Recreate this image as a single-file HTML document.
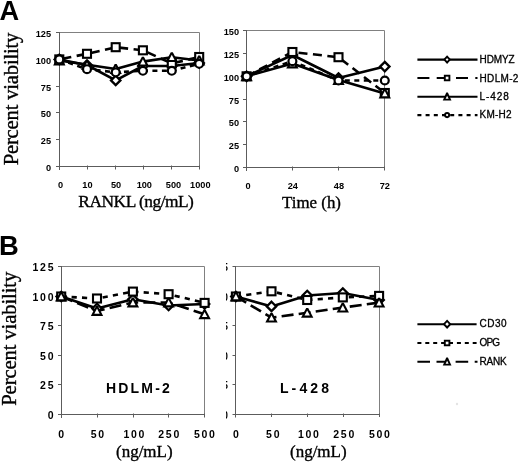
<!DOCTYPE html><html><head><meta charset="utf-8"><title>Figure</title>
<style>html,body{margin:0;padding:0;background:#fff}svg{display:block}text{fill:#000}</style></head><body>
<svg width="520" height="465" viewBox="0 0 520 465">
<rect width="520" height="465" fill="#fff"/>
<text x="-0.5" y="19.9" font-family="'Liberation Sans', Arial, sans-serif" font-size="27.2" font-weight="bold" text-anchor="start">A</text>
<text x="-0.9" y="255.0" font-family="'Liberation Sans', Arial, sans-serif" font-size="27.4" font-weight="bold" text-anchor="start">B</text>
<text transform="translate(17.5,165.3) rotate(-90)" font-family="'Liberation Serif', 'Times New Roman', serif" font-size="20.7" letter-spacing="-0.22" stroke="#000" stroke-width="0.35">Percent viability</text>
<text transform="translate(16,405.8) rotate(-90)" font-family="'Liberation Serif', 'Times New Roman', serif" font-size="20.7" letter-spacing="-0.13" stroke="#000" stroke-width="0.35">Percent viability</text>
<path d="M59.5 32.5H199.5V166.5" fill="none" stroke="#808080" stroke-width="1"/>
<path d="M59.5 32.0V170.0M56.0 166.5H200.0" fill="none" stroke="#5c5c5c" stroke-width="1"/>
<line x1="56.0" y1="32.5" x2="59.5" y2="32.5" stroke="#5c5c5c" stroke-width="1"/>
<line x1="56.0" y1="59.5" x2="59.5" y2="59.5" stroke="#5c5c5c" stroke-width="1"/>
<line x1="56.0" y1="86.5" x2="59.5" y2="86.5" stroke="#5c5c5c" stroke-width="1"/>
<line x1="56.0" y1="112.5" x2="59.5" y2="112.5" stroke="#5c5c5c" stroke-width="1"/>
<line x1="56.0" y1="139.5" x2="59.5" y2="139.5" stroke="#5c5c5c" stroke-width="1"/>
<line x1="87.5" y1="165.5" x2="87.5" y2="169.5" stroke="#5c5c5c" stroke-width="1"/>
<line x1="115.5" y1="165.5" x2="115.5" y2="169.5" stroke="#5c5c5c" stroke-width="1"/>
<line x1="143.5" y1="165.5" x2="143.5" y2="169.5" stroke="#5c5c5c" stroke-width="1"/>
<line x1="171.5" y1="165.5" x2="171.5" y2="169.5" stroke="#5c5c5c" stroke-width="1"/>
<line x1="199.5" y1="165.5" x2="199.5" y2="169.5" stroke="#5c5c5c" stroke-width="1"/>
<text x="51.1" y="36.9" font-family="'Liberation Sans', Arial, sans-serif" font-size="9.2" font-weight="bold" text-anchor="end">125</text>
<text x="51.1" y="63.699999999999996" font-family="'Liberation Sans', Arial, sans-serif" font-size="9.2" font-weight="bold" text-anchor="end">100</text>
<text x="51.1" y="90.5" font-family="'Liberation Sans', Arial, sans-serif" font-size="9.2" font-weight="bold" text-anchor="end">75</text>
<text x="51.1" y="117.30000000000001" font-family="'Liberation Sans', Arial, sans-serif" font-size="9.2" font-weight="bold" text-anchor="end">50</text>
<text x="51.1" y="144.1" font-family="'Liberation Sans', Arial, sans-serif" font-size="9.2" font-weight="bold" text-anchor="end">25</text>
<text x="51.1" y="170.9" font-family="'Liberation Sans', Arial, sans-serif" font-size="9.2" font-weight="bold" text-anchor="end">0</text>
<text x="60.5" y="187.7" font-family="'Liberation Sans', Arial, sans-serif" font-size="9.2" font-weight="bold" text-anchor="middle">0</text>
<text x="87.4" y="187.7" font-family="'Liberation Sans', Arial, sans-serif" font-size="9.2" font-weight="bold" text-anchor="middle">10</text>
<text x="116.0" y="187.7" font-family="'Liberation Sans', Arial, sans-serif" font-size="9.2" font-weight="bold" text-anchor="middle">50</text>
<text x="144.3" y="187.7" font-family="'Liberation Sans', Arial, sans-serif" font-size="9.2" font-weight="bold" text-anchor="middle">100</text>
<text x="173.5" y="187.7" font-family="'Liberation Sans', Arial, sans-serif" font-size="9.2" font-weight="bold" text-anchor="middle">500</text>
<text x="200.3" y="187.7" font-family="'Liberation Sans', Arial, sans-serif" font-size="9.2" font-weight="bold" text-anchor="middle">1000</text>
<text x="135.9" y="207.2" font-family="'Liberation Serif', 'Times New Roman', serif" font-size="17.4" font-weight="normal" text-anchor="middle" letter-spacing="-0.5" stroke="#000" stroke-width="0.35">RANKL (ng/mL)</text>
<polyline points="59.30,59.40 87.00,65.00 115.70,80.40 142.90,66.00 171.80,66.00 199.20,63.00" fill="none" stroke="#000" stroke-width="2.6" stroke-linejoin="round"/>
<path d="M59.30 54.70L64.00 59.40L59.30 64.10L54.60 59.40Z" fill="#fff" stroke="#000" stroke-width="2.31" stroke-linejoin="miter"/>
<path d="M87.00 60.30L91.70 65.00L87.00 69.70L82.30 65.00Z" fill="#fff" stroke="#000" stroke-width="2.31" stroke-linejoin="miter"/>
<path d="M115.70 75.70L120.40 80.40L115.70 85.10L111.00 80.40Z" fill="#fff" stroke="#000" stroke-width="2.31" stroke-linejoin="miter"/>
<path d="M142.90 61.30L147.60 66.00L142.90 70.70L138.20 66.00Z" fill="#fff" stroke="#000" stroke-width="2.31" stroke-linejoin="miter"/>
<path d="M171.80 61.30L176.50 66.00L171.80 70.70L167.10 66.00Z" fill="#fff" stroke="#000" stroke-width="2.31" stroke-linejoin="miter"/>
<path d="M199.20 58.30L203.90 63.00L199.20 67.70L194.50 63.00Z" fill="#fff" stroke="#000" stroke-width="2.31" stroke-linejoin="miter"/>
<polyline points="59.30,59.40 87.00,53.80 115.70,47.20 142.90,50.30 171.80,63.50 199.20,57.00" fill="none" stroke="#000" stroke-width="2.6" stroke-linejoin="round" stroke-dasharray="9 5.5" stroke-dashoffset="11.3"/>
<rect x="55.30" y="55.40" width="8.00" height="8.00" fill="#fff" stroke="#000" stroke-width="2.1"/>
<rect x="83.00" y="49.80" width="8.00" height="8.00" fill="#fff" stroke="#000" stroke-width="2.1"/>
<rect x="111.70" y="43.20" width="8.00" height="8.00" fill="#fff" stroke="#000" stroke-width="2.1"/>
<rect x="138.90" y="46.30" width="8.00" height="8.00" fill="#fff" stroke="#000" stroke-width="2.1"/>
<rect x="167.80" y="59.50" width="8.00" height="8.00" fill="#fff" stroke="#000" stroke-width="2.1"/>
<rect x="195.20" y="53.00" width="8.00" height="8.00" fill="#fff" stroke="#000" stroke-width="2.1"/>
<polyline points="59.30,60.50 87.00,64.80 115.70,69.00 142.90,61.60 171.80,57.20 199.20,60.50" fill="none" stroke="#000" stroke-width="2.6" stroke-linejoin="round"/>
<path d="M58.30 55.60L60.30 55.60L65.45 65.40L53.15 65.40Z" fill="#000"/><path d="M59.30 58.10L62.00 63.30L56.60 63.30Z" fill="#fff"/>
<path d="M86.00 59.90L88.00 59.90L93.15 69.70L80.85 69.70Z" fill="#000"/><path d="M87.00 62.40L89.70 67.60L84.30 67.60Z" fill="#fff"/>
<path d="M114.70 64.10L116.70 64.10L121.85 73.90L109.55 73.90Z" fill="#000"/><path d="M115.70 66.60L118.40 71.80L113.00 71.80Z" fill="#fff"/>
<path d="M141.90 56.70L143.90 56.70L149.05 66.50L136.75 66.50Z" fill="#000"/><path d="M142.90 59.20L145.60 64.40L140.20 64.40Z" fill="#fff"/>
<path d="M170.80 52.30L172.80 52.30L177.95 62.10L165.65 62.10Z" fill="#000"/><path d="M171.80 54.80L174.50 60.00L169.10 60.00Z" fill="#fff"/>
<path d="M198.20 55.60L200.20 55.60L205.35 65.40L193.05 65.40Z" fill="#000"/><path d="M199.20 58.10L201.90 63.30L196.50 63.30Z" fill="#fff"/>
<polyline points="59.30,59.40 87.00,69.20 115.70,72.30 142.90,70.80 171.80,70.80 199.20,63.80" fill="none" stroke="#000" stroke-width="2.6" stroke-linejoin="round" stroke-dasharray="5 4.5" stroke-dashoffset="0"/>
<circle cx="59.30" cy="59.40" r="3.95" fill="#fff" stroke="#000" stroke-width="2.21"/>
<circle cx="87.00" cy="69.20" r="3.95" fill="#fff" stroke="#000" stroke-width="2.21"/>
<circle cx="115.70" cy="72.30" r="3.95" fill="#fff" stroke="#000" stroke-width="2.21"/>
<circle cx="142.90" cy="70.80" r="3.95" fill="#fff" stroke="#000" stroke-width="2.21"/>
<circle cx="171.80" cy="70.80" r="3.95" fill="#fff" stroke="#000" stroke-width="2.21"/>
<circle cx="199.20" cy="63.80" r="3.95" fill="#fff" stroke="#000" stroke-width="2.21"/>
<path d="M246.5 30.5H384.5V167.5" fill="none" stroke="#808080" stroke-width="1"/>
<path d="M246.5 30.0V171.0M243.0 167.5H385.0" fill="none" stroke="#5c5c5c" stroke-width="1"/>
<line x1="243.0" y1="30.5" x2="246.5" y2="30.5" stroke="#5c5c5c" stroke-width="1"/>
<line x1="243.0" y1="53.5" x2="246.5" y2="53.5" stroke="#5c5c5c" stroke-width="1"/>
<line x1="243.0" y1="76.5" x2="246.5" y2="76.5" stroke="#5c5c5c" stroke-width="1"/>
<line x1="243.0" y1="99.5" x2="246.5" y2="99.5" stroke="#5c5c5c" stroke-width="1"/>
<line x1="243.0" y1="121.5" x2="246.5" y2="121.5" stroke="#5c5c5c" stroke-width="1"/>
<line x1="243.0" y1="144.5" x2="246.5" y2="144.5" stroke="#5c5c5c" stroke-width="1"/>
<line x1="292.5" y1="166.5" x2="292.5" y2="170.5" stroke="#5c5c5c" stroke-width="1"/>
<line x1="338.5" y1="166.5" x2="338.5" y2="170.5" stroke="#5c5c5c" stroke-width="1"/>
<line x1="384.5" y1="166.5" x2="384.5" y2="170.5" stroke="#5c5c5c" stroke-width="1"/>
<text x="239" y="35.0" font-family="'Liberation Sans', Arial, sans-serif" font-size="9.2" font-weight="bold" text-anchor="end">150</text>
<text x="239" y="57.83333333333333" font-family="'Liberation Sans', Arial, sans-serif" font-size="9.2" font-weight="bold" text-anchor="end">125</text>
<text x="239" y="80.66666666666666" font-family="'Liberation Sans', Arial, sans-serif" font-size="9.2" font-weight="bold" text-anchor="end">100</text>
<text x="239" y="103.5" font-family="'Liberation Sans', Arial, sans-serif" font-size="9.2" font-weight="bold" text-anchor="end">75</text>
<text x="239" y="126.33333333333333" font-family="'Liberation Sans', Arial, sans-serif" font-size="9.2" font-weight="bold" text-anchor="end">50</text>
<text x="239" y="149.16666666666669" font-family="'Liberation Sans', Arial, sans-serif" font-size="9.2" font-weight="bold" text-anchor="end">25</text>
<text x="239" y="172.0" font-family="'Liberation Sans', Arial, sans-serif" font-size="9.2" font-weight="bold" text-anchor="end">0</text>
<text x="248" y="189.2" font-family="'Liberation Sans', Arial, sans-serif" font-size="9.2" font-weight="bold" text-anchor="middle">0</text>
<text x="292.8" y="189.2" font-family="'Liberation Sans', Arial, sans-serif" font-size="9.2" font-weight="bold" text-anchor="middle">24</text>
<text x="338.9" y="189.2" font-family="'Liberation Sans', Arial, sans-serif" font-size="9.2" font-weight="bold" text-anchor="middle">48</text>
<text x="384.8" y="189.2" font-family="'Liberation Sans', Arial, sans-serif" font-size="9.2" font-weight="bold" text-anchor="middle">72</text>
<text x="311.5" y="208.2" font-family="'Liberation Serif', 'Times New Roman', serif" font-size="16.9" font-weight="normal" text-anchor="middle" stroke="#000" stroke-width="0.35">Time (h)</text>
<polyline points="246.60,76.30 292.40,55.00 338.50,78.00 384.80,66.60" fill="none" stroke="#000" stroke-width="2.6" stroke-linejoin="round"/>
<path d="M246.60 71.60L251.30 76.30L246.60 81.00L241.90 76.30Z" fill="#fff" stroke="#000" stroke-width="2.31" stroke-linejoin="miter"/>
<path d="M292.40 50.30L297.10 55.00L292.40 59.70L287.70 55.00Z" fill="#fff" stroke="#000" stroke-width="2.31" stroke-linejoin="miter"/>
<path d="M338.50 73.30L343.20 78.00L338.50 82.70L333.80 78.00Z" fill="#fff" stroke="#000" stroke-width="2.31" stroke-linejoin="miter"/>
<path d="M384.80 61.90L389.50 66.60L384.80 71.30L380.10 66.60Z" fill="#fff" stroke="#000" stroke-width="2.31" stroke-linejoin="miter"/>
<polyline points="246.60,76.30 292.40,52.00 338.50,57.20 384.80,93.00" fill="none" stroke="#000" stroke-width="2.6" stroke-linejoin="round" stroke-dasharray="9 5.5" stroke-dashoffset="0"/>
<rect x="242.60" y="72.30" width="8.00" height="8.00" fill="#fff" stroke="#000" stroke-width="2.1"/>
<rect x="288.40" y="48.00" width="8.00" height="8.00" fill="#fff" stroke="#000" stroke-width="2.1"/>
<rect x="334.50" y="53.20" width="8.00" height="8.00" fill="#fff" stroke="#000" stroke-width="2.1"/>
<rect x="380.80" y="89.00" width="8.00" height="8.00" fill="#fff" stroke="#000" stroke-width="2.1"/>
<polyline points="246.60,76.30 292.40,63.50 338.50,80.00 384.80,93.50" fill="none" stroke="#000" stroke-width="2.6" stroke-linejoin="round"/>
<path d="M245.60 71.40L247.60 71.40L252.75 81.20L240.45 81.20Z" fill="#000"/><path d="M246.60 73.90L249.30 79.10L243.90 79.10Z" fill="#fff"/>
<path d="M291.40 58.60L293.40 58.60L298.55 68.40L286.25 68.40Z" fill="#000"/><path d="M292.40 61.10L295.10 66.30L289.70 66.30Z" fill="#fff"/>
<path d="M337.50 75.10L339.50 75.10L344.65 84.90L332.35 84.90Z" fill="#000"/><path d="M338.50 77.60L341.20 82.80L335.80 82.80Z" fill="#fff"/>
<path d="M383.80 88.60L385.80 88.60L390.95 98.40L378.65 98.40Z" fill="#000"/><path d="M384.80 91.10L387.50 96.30L382.10 96.30Z" fill="#fff"/>
<polyline points="246.60,76.30 292.40,61.20 338.50,80.50 384.80,80.50" fill="none" stroke="#000" stroke-width="2.6" stroke-linejoin="round" stroke-dasharray="5 4.5" stroke-dashoffset="0"/>
<circle cx="246.60" cy="76.30" r="3.95" fill="#fff" stroke="#000" stroke-width="2.21"/>
<circle cx="292.40" cy="61.20" r="3.95" fill="#fff" stroke="#000" stroke-width="2.21"/>
<circle cx="338.50" cy="80.50" r="3.95" fill="#fff" stroke="#000" stroke-width="2.21"/>
<circle cx="384.80" cy="80.50" r="3.95" fill="#fff" stroke="#000" stroke-width="2.21"/>
<line x1="417.4" y1="59.6" x2="477.5" y2="59.6" stroke="#000" stroke-width="2.1"/>
<path d="M447.10 56.70L449.80 59.60L447.10 62.50L444.40 59.60Z" fill="#fff" stroke="#000" stroke-width="1.9" stroke-linejoin="miter"/>
<text x="479.6" y="63.2" font-family="'Liberation Sans', Arial, sans-serif" font-size="10" font-weight="normal" text-anchor="start" letter-spacing="-0.15" stroke="#000" stroke-width="0.3">HDMYZ</text>
<line x1="417.4" y1="78.0" x2="477.5" y2="78.0" stroke="#000" stroke-width="2.1" stroke-dasharray="12 7.3"/>
<rect x="444.80" y="75.70" width="4.60" height="4.60" fill="#fff" stroke="#000" stroke-width="1.9"/>
<text x="479.6" y="81.5" font-family="'Liberation Sans', Arial, sans-serif" font-size="10" font-weight="normal" text-anchor="start" letter-spacing="0.3" stroke="#000" stroke-width="0.3">HDLM-2</text>
<line x1="417.4" y1="96.8" x2="477.5" y2="96.8" stroke="#000" stroke-width="2.1"/>
<path d="M446.30 92.40L447.90 92.40L451.45 100.60L442.75 100.60Z" fill="#000"/><path d="M447.10 95.70L448.60 98.70L445.60 98.70Z" fill="#fff"/>
<text x="479.6" y="100.2" font-family="'Liberation Sans', Arial, sans-serif" font-size="10" font-weight="normal" text-anchor="start" letter-spacing="0.9" stroke="#000" stroke-width="0.3">L-428</text>
<line x1="417.4" y1="115.1" x2="477.5" y2="115.1" stroke="#000" stroke-width="2.1" stroke-dasharray="4 4.2"/>
<circle cx="447.10" cy="115.10" r="2.1" fill="#fff" stroke="#000" stroke-width="1.9"/>
<text x="479.6" y="118.39999999999999" font-family="'Liberation Sans', Arial, sans-serif" font-size="10" font-weight="normal" text-anchor="start" letter-spacing="0.2" stroke="#000" stroke-width="0.3">KM-H2</text>
<path d="M61.5 266.5H204.5V414.5" fill="none" stroke="#808080" stroke-width="1"/>
<path d="M61.5 266.0V418.0M58.0 414.5H205.0" fill="none" stroke="#5c5c5c" stroke-width="1"/>
<line x1="58.0" y1="266.5" x2="61.5" y2="266.5" stroke="#5c5c5c" stroke-width="1"/>
<line x1="58.0" y1="296.5" x2="61.5" y2="296.5" stroke="#5c5c5c" stroke-width="1"/>
<line x1="58.0" y1="325.5" x2="61.5" y2="325.5" stroke="#5c5c5c" stroke-width="1"/>
<line x1="58.0" y1="355.5" x2="61.5" y2="355.5" stroke="#5c5c5c" stroke-width="1"/>
<line x1="58.0" y1="384.5" x2="61.5" y2="384.5" stroke="#5c5c5c" stroke-width="1"/>
<line x1="97.5" y1="413.5" x2="97.5" y2="417.5" stroke="#5c5c5c" stroke-width="1"/>
<line x1="133.5" y1="413.5" x2="133.5" y2="417.5" stroke="#5c5c5c" stroke-width="1"/>
<line x1="168.5" y1="413.5" x2="168.5" y2="417.5" stroke="#5c5c5c" stroke-width="1"/>
<line x1="204.5" y1="413.5" x2="204.5" y2="417.5" stroke="#5c5c5c" stroke-width="1"/>
<text x="55.2" y="271.0" font-family="'Liberation Sans', Arial, sans-serif" font-size="10.5" font-weight="bold" text-anchor="end" letter-spacing="1.7">125</text>
<text x="55.2" y="300.6" font-family="'Liberation Sans', Arial, sans-serif" font-size="10.5" font-weight="bold" text-anchor="end" letter-spacing="1.7">100</text>
<text x="55.2" y="330.2" font-family="'Liberation Sans', Arial, sans-serif" font-size="10.5" font-weight="bold" text-anchor="end" letter-spacing="1.7">75</text>
<text x="55.2" y="359.8" font-family="'Liberation Sans', Arial, sans-serif" font-size="10.5" font-weight="bold" text-anchor="end" letter-spacing="1.7">50</text>
<text x="55.2" y="389.4" font-family="'Liberation Sans', Arial, sans-serif" font-size="10.5" font-weight="bold" text-anchor="end" letter-spacing="1.7">25</text>
<text x="55.2" y="419.0" font-family="'Liberation Sans', Arial, sans-serif" font-size="10.5" font-weight="bold" text-anchor="end" letter-spacing="1.7">0</text>
<text x="62.050000000000004" y="438.2" font-family="'Liberation Sans', Arial, sans-serif" font-size="10.5" font-weight="bold" text-anchor="middle" letter-spacing="1.7">0</text>
<text x="98.25" y="438.2" font-family="'Liberation Sans', Arial, sans-serif" font-size="10.5" font-weight="bold" text-anchor="middle" letter-spacing="1.7">50</text>
<text x="134.85" y="438.2" font-family="'Liberation Sans', Arial, sans-serif" font-size="10.5" font-weight="bold" text-anchor="middle" letter-spacing="1.7">100</text>
<text x="169.65" y="438.2" font-family="'Liberation Sans', Arial, sans-serif" font-size="10.5" font-weight="bold" text-anchor="middle" letter-spacing="1.7">250</text>
<text x="205.25" y="438.2" font-family="'Liberation Sans', Arial, sans-serif" font-size="10.5" font-weight="bold" text-anchor="middle" letter-spacing="1.7">500</text>
<text x="144.3" y="457.4" font-family="'Liberation Serif', 'Times New Roman', serif" font-size="17.0" font-weight="normal" text-anchor="middle" stroke="#000" stroke-width="0.35">(ng/mL)</text>
<text x="139.0" y="392.8" font-family="'Liberation Sans', Arial, sans-serif" font-size="14" font-weight="bold" text-anchor="middle" letter-spacing="2.2">HDLM-2</text>
<polyline points="61.20,296.50 97.00,308.50 132.90,299.30 168.60,305.50 204.60,304.00" fill="none" stroke="#000" stroke-width="2.6" stroke-linejoin="round"/>
<path d="M61.20 291.80L65.90 296.50L61.20 301.20L56.50 296.50Z" fill="#fff" stroke="#000" stroke-width="2.31" stroke-linejoin="miter"/>
<path d="M97.00 303.80L101.70 308.50L97.00 313.20L92.30 308.50Z" fill="#fff" stroke="#000" stroke-width="2.31" stroke-linejoin="miter"/>
<path d="M132.90 294.60L137.60 299.30L132.90 304.00L128.20 299.30Z" fill="#fff" stroke="#000" stroke-width="2.31" stroke-linejoin="miter"/>
<path d="M168.60 300.80L173.30 305.50L168.60 310.20L163.90 305.50Z" fill="#fff" stroke="#000" stroke-width="2.31" stroke-linejoin="miter"/>
<path d="M204.60 299.30L209.30 304.00L204.60 308.70L199.90 304.00Z" fill="#fff" stroke="#000" stroke-width="2.31" stroke-linejoin="miter"/>
<polyline points="61.20,296.50 97.00,298.50 132.90,291.60 168.60,294.20 204.60,302.90" fill="none" stroke="#000" stroke-width="2.6" stroke-linejoin="round" stroke-dasharray="5.2 5.2" stroke-dashoffset="0"/>
<rect x="57.20" y="292.50" width="8.00" height="8.00" fill="#fff" stroke="#000" stroke-width="2.1"/>
<rect x="93.00" y="294.50" width="8.00" height="8.00" fill="#fff" stroke="#000" stroke-width="2.1"/>
<rect x="128.90" y="287.60" width="8.00" height="8.00" fill="#fff" stroke="#000" stroke-width="2.1"/>
<rect x="164.60" y="290.20" width="8.00" height="8.00" fill="#fff" stroke="#000" stroke-width="2.1"/>
<rect x="200.60" y="298.90" width="8.00" height="8.00" fill="#fff" stroke="#000" stroke-width="2.1"/>
<polyline points="61.20,296.50 97.00,311.00 132.90,302.50 168.60,302.50 204.60,314.30" fill="none" stroke="#000" stroke-width="2.6" stroke-linejoin="round" stroke-dasharray="12 5.2" stroke-dashoffset="0"/>
<path d="M60.20 291.60L62.20 291.60L67.35 301.40L55.05 301.40Z" fill="#000"/><path d="M61.20 294.10L63.90 299.30L58.50 299.30Z" fill="#fff"/>
<path d="M96.00 306.10L98.00 306.10L103.15 315.90L90.85 315.90Z" fill="#000"/><path d="M97.00 308.60L99.70 313.80L94.30 313.80Z" fill="#fff"/>
<path d="M131.90 297.60L133.90 297.60L139.05 307.40L126.75 307.40Z" fill="#000"/><path d="M132.90 300.10L135.60 305.30L130.20 305.30Z" fill="#fff"/>
<path d="M167.60 297.60L169.60 297.60L174.75 307.40L162.45 307.40Z" fill="#000"/><path d="M168.60 300.10L171.30 305.30L165.90 305.30Z" fill="#fff"/>
<path d="M203.60 309.40L205.60 309.40L210.75 319.20L198.45 319.20Z" fill="#000"/><path d="M204.60 311.90L207.30 317.10L201.90 317.10Z" fill="#fff"/>
<path d="M235.5 266.5H379.5V414.5" fill="none" stroke="#808080" stroke-width="1"/>
<path d="M235.5 266.0V417.5M232.5 414.5H380.0" fill="none" stroke="#5c5c5c" stroke-width="1"/>
<line x1="232.5" y1="266.5" x2="235.5" y2="266.5" stroke="#5c5c5c" stroke-width="1"/>
<line x1="232.5" y1="296.5" x2="235.5" y2="296.5" stroke="#5c5c5c" stroke-width="1"/>
<line x1="232.5" y1="325.5" x2="235.5" y2="325.5" stroke="#5c5c5c" stroke-width="1"/>
<line x1="232.5" y1="355.5" x2="235.5" y2="355.5" stroke="#5c5c5c" stroke-width="1"/>
<line x1="232.5" y1="384.5" x2="235.5" y2="384.5" stroke="#5c5c5c" stroke-width="1"/>
<line x1="271.5" y1="413.5" x2="271.5" y2="417.0" stroke="#5c5c5c" stroke-width="1"/>
<line x1="307.5" y1="413.5" x2="307.5" y2="417.0" stroke="#5c5c5c" stroke-width="1"/>
<line x1="343.5" y1="413.5" x2="343.5" y2="417.0" stroke="#5c5c5c" stroke-width="1"/>
<line x1="379.5" y1="413.5" x2="379.5" y2="417.0" stroke="#5c5c5c" stroke-width="1"/>
<clipPath id="cl"><rect x="226.0" y="255" width="1.8" height="170"/></clipPath>
<g clip-path="url(#cl)">
<text x="229.89999999999998" y="271.0" font-family="'Liberation Sans', Arial, sans-serif" font-size="10.5" font-weight="bold" text-anchor="end" letter-spacing="1.7">125</text>
<text x="229.89999999999998" y="300.6" font-family="'Liberation Sans', Arial, sans-serif" font-size="10.5" font-weight="bold" text-anchor="end" letter-spacing="1.7">100</text>
<text x="229.89999999999998" y="330.2" font-family="'Liberation Sans', Arial, sans-serif" font-size="10.5" font-weight="bold" text-anchor="end" letter-spacing="1.7">75</text>
<text x="229.89999999999998" y="359.8" font-family="'Liberation Sans', Arial, sans-serif" font-size="10.5" font-weight="bold" text-anchor="end" letter-spacing="1.7">50</text>
<text x="229.89999999999998" y="389.4" font-family="'Liberation Sans', Arial, sans-serif" font-size="10.5" font-weight="bold" text-anchor="end" letter-spacing="1.7">25</text>
<text x="229.89999999999998" y="419.0" font-family="'Liberation Sans', Arial, sans-serif" font-size="10.5" font-weight="bold" text-anchor="end" letter-spacing="1.7">0</text>
</g>
<text x="236.65" y="438.2" font-family="'Liberation Sans', Arial, sans-serif" font-size="10.5" font-weight="bold" text-anchor="middle" letter-spacing="1.7">0</text>
<text x="273.65000000000003" y="438.2" font-family="'Liberation Sans', Arial, sans-serif" font-size="10.5" font-weight="bold" text-anchor="middle" letter-spacing="1.7">50</text>
<text x="309.35" y="438.2" font-family="'Liberation Sans', Arial, sans-serif" font-size="10.5" font-weight="bold" text-anchor="middle" letter-spacing="1.7">100</text>
<text x="344.65000000000003" y="438.2" font-family="'Liberation Sans', Arial, sans-serif" font-size="10.5" font-weight="bold" text-anchor="middle" letter-spacing="1.7">250</text>
<text x="380.25" y="438.2" font-family="'Liberation Sans', Arial, sans-serif" font-size="10.5" font-weight="bold" text-anchor="middle" letter-spacing="1.7">500</text>
<text x="318.3" y="457.4" font-family="'Liberation Serif', 'Times New Roman', serif" font-size="17.0" font-weight="normal" text-anchor="middle" stroke="#000" stroke-width="0.35">(ng/mL)</text>
<text x="306.1" y="392.8" font-family="'Liberation Sans', Arial, sans-serif" font-size="14" font-weight="bold" text-anchor="middle" letter-spacing="3.15">L-428</text>
<polyline points="235.90,296.50 271.50,306.40 307.20,295.50 342.80,293.00 379.10,300.00" fill="none" stroke="#000" stroke-width="2.6" stroke-linejoin="round"/>
<path d="M235.90 291.80L240.60 296.50L235.90 301.20L231.20 296.50Z" fill="#fff" stroke="#000" stroke-width="2.31" stroke-linejoin="miter"/>
<path d="M271.50 301.70L276.20 306.40L271.50 311.10L266.80 306.40Z" fill="#fff" stroke="#000" stroke-width="2.31" stroke-linejoin="miter"/>
<path d="M307.20 290.80L311.90 295.50L307.20 300.20L302.50 295.50Z" fill="#fff" stroke="#000" stroke-width="2.31" stroke-linejoin="miter"/>
<path d="M342.80 288.30L347.50 293.00L342.80 297.70L338.10 293.00Z" fill="#fff" stroke="#000" stroke-width="2.31" stroke-linejoin="miter"/>
<path d="M379.10 295.30L383.80 300.00L379.10 304.70L374.40 300.00Z" fill="#fff" stroke="#000" stroke-width="2.31" stroke-linejoin="miter"/>
<polyline points="235.90,296.50 271.50,291.30 307.20,300.00 342.80,297.40 379.10,295.90" fill="none" stroke="#000" stroke-width="2.6" stroke-linejoin="round" stroke-dasharray="5.2 5.2" stroke-dashoffset="0"/>
<rect x="231.90" y="292.50" width="8.00" height="8.00" fill="#fff" stroke="#000" stroke-width="2.1"/>
<rect x="267.50" y="287.30" width="8.00" height="8.00" fill="#fff" stroke="#000" stroke-width="2.1"/>
<rect x="303.20" y="296.00" width="8.00" height="8.00" fill="#fff" stroke="#000" stroke-width="2.1"/>
<rect x="338.80" y="293.40" width="8.00" height="8.00" fill="#fff" stroke="#000" stroke-width="2.1"/>
<rect x="375.10" y="291.90" width="8.00" height="8.00" fill="#fff" stroke="#000" stroke-width="2.1"/>
<polyline points="235.90,296.50 271.50,317.60 307.20,312.80 342.80,307.60 379.10,302.60" fill="none" stroke="#000" stroke-width="2.6" stroke-linejoin="round" stroke-dasharray="12 5.2" stroke-dashoffset="0"/>
<path d="M234.90 291.60L236.90 291.60L242.05 301.40L229.75 301.40Z" fill="#000"/><path d="M235.90 294.10L238.60 299.30L233.20 299.30Z" fill="#fff"/>
<path d="M270.50 312.70L272.50 312.70L277.65 322.50L265.35 322.50Z" fill="#000"/><path d="M271.50 315.20L274.20 320.40L268.80 320.40Z" fill="#fff"/>
<path d="M306.20 307.90L308.20 307.90L313.35 317.70L301.05 317.70Z" fill="#000"/><path d="M307.20 310.40L309.90 315.60L304.50 315.60Z" fill="#fff"/>
<path d="M341.80 302.70L343.80 302.70L348.95 312.50L336.65 312.50Z" fill="#000"/><path d="M342.80 305.20L345.50 310.40L340.10 310.40Z" fill="#fff"/>
<path d="M378.10 297.70L380.10 297.70L385.25 307.50L372.95 307.50Z" fill="#000"/><path d="M379.10 300.20L381.80 305.40L376.40 305.40Z" fill="#fff"/>
<line x1="417.4" y1="324.2" x2="476.6" y2="324.2" stroke="#000" stroke-width="2.1"/>
<path d="M447.10 320.90L450.20 324.20L447.10 327.50L444.00 324.20Z" fill="#fff" stroke="#000" stroke-width="1.9" stroke-linejoin="miter"/>
<text x="479.6" y="327.4" font-family="'Liberation Sans', Arial, sans-serif" font-size="10" font-weight="normal" text-anchor="start" letter-spacing="0.5" stroke="#000" stroke-width="0.3">CD30</text>
<line x1="417.4" y1="343.0" x2="476.6" y2="343.0" stroke="#000" stroke-width="2.1" stroke-dasharray="4 3.9"/>
<rect x="444.80" y="340.70" width="4.60" height="4.60" fill="#fff" stroke="#000" stroke-width="1.9"/>
<text x="479.6" y="345.6" font-family="'Liberation Sans', Arial, sans-serif" font-size="10" font-weight="normal" text-anchor="start" letter-spacing="-0.9" stroke="#000" stroke-width="0.3">OPG</text>
<line x1="417.4" y1="361.8" x2="477.5" y2="361.8" stroke="#000" stroke-width="2.1" stroke-dasharray="12.6 6.5"/>
<path d="M446.30 357.40L447.90 357.40L451.45 365.60L442.75 365.60Z" fill="#000"/><path d="M447.10 360.70L448.60 363.70L445.60 363.70Z" fill="#fff"/>
<text x="479.6" y="364.6" font-family="'Liberation Sans', Arial, sans-serif" font-size="10" font-weight="normal" text-anchor="start" letter-spacing="-0.2" stroke="#000" stroke-width="0.3">RANK</text>
<circle cx="457" cy="404" r="1.2" fill="#e4e4e4"/>
</svg></body></html>
